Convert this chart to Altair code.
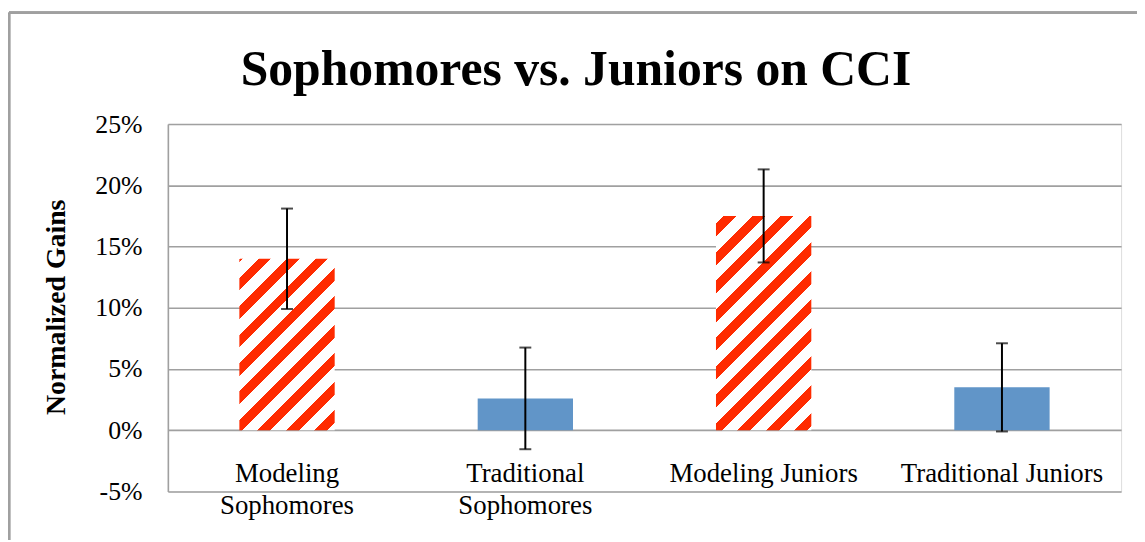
import altair as alt
import pandas as pd

# ---- data ----
categories = ["Modeling Sophomores", "Traditional Sophomores", "Modeling Juniors", "Traditional Juniors"]
gains = [0.140, 0.026, 0.175, 0.035]
errors = [0.041, 0.0415, 0.038, 0.036]
kinds = ["Modeling", "Traditional", "Modeling", "Traditional"]
y_ticks = [-0.05, 0.0, 0.05, 0.10, 0.15, 0.20, 0.25]

df = pd.DataFrame({"cat": categories, "gain": gains, "err": errors, "kind": kinds})

# ---- layout / style ----
W, H = 960, 370
PAD = {"left": 161, "top": 115, "right": 16, "bottom": 49}
FONT = "Liberation Serif"
GRID = "#A0A0A0"
RED = "#FF2B00"
WHITE = "#FFFFFF"
BLUE = "#6195C8"
BAR_W = 96.0
PX_PER_UNIT = H / 0.30
PERIOD, RED_W = 28.7, 13.0


def stripe_fill(value, phase):
    h = value * PX_PER_UNIT
    r = h / BAR_W
    L = BAR_W * (1 + r * r)
    stops = []
    k = -2
    while True:
        a = phase + k * PERIOD
        b = a + RED_W
        if a > L:
            break
        a0, b0 = max(a, 0.0), min(b, L)
        if b0 > a0:
            for s, c in ((a0, WHITE), (a0, RED), (b0, RED), (b0, WHITE)):
                stops.append(alt.GradientStop(offset=round(s / L, 5), color=c))
        k += 1
    return alt.LinearGradient(gradient="linear", x1=0, y1=0, x2=1, y2=r, stops=stops)


x_enc = alt.X(
    "cat:N",
    sort=categories,
    scale=alt.Scale(domain=categories, paddingInner=0.6, paddingOuter=0.3),
    axis=alt.Axis(
        title=None, orient="bottom", offset=-62, domain=False, ticks=False, grid=False,
        labelAngle=0, labelFont=FONT, labelFontSize=27, labelColor="black",
        labelPadding=31, labelLineHeight=32, labelLimit=0, labelOverlap=False,
        labelBound=False,
        labelExpr="test(/Sophomores/, datum.label) ? split(datum.label, ' ') : datum.label",
    ),
)
y_scale = alt.Scale(domain=[-0.05, 0.25], nice=False, zero=False)
y_axis = alt.Axis(
    values=y_ticks, title="Normalized Gains", grid=True, gridColor=GRID, gridWidth=1.6,
    domain=True, domainColor=GRID, domainWidth=1.6, ticks=False,
    labelFont=FONT, labelFontSize=26, labelColor="black", labelPadding=26,
    labelExpr="round(datum.value * 100) + '%'",
    titleFont=FONT, titleFontSize=28, titleFontWeight="bold", titleColor="black",
    titleX=-112, titleY=184, titleAngle=-90, titleAlign="center", titleBaseline="middle",
)

base = alt.Chart(df)

trad = base.transform_filter(alt.datum.kind == "Traditional").mark_bar(color=BLUE).encode(
    x=x_enc, y=alt.Y("gain:Q", scale=y_scale, axis=y_axis), y2=alt.datum(0)
)
mod_soph = base.transform_filter(alt.datum.cat == categories[0]).mark_bar(
    color=stripe_fill(gains[0], 19.0)
).encode(x=x_enc, y=alt.Y("gain:Q", scale=y_scale), y2=alt.datum(0))
mod_jun = base.transform_filter(alt.datum.cat == categories[2]).mark_bar(
    color=stripe_fill(gains[2], 8.0)
).encode(x=x_enc, y=alt.Y("gain:Q", scale=y_scale), y2=alt.datum(0))

err_base = base.transform_calculate(lo="datum.gain - datum.err", hi="datum.gain + datum.err")
err_rule = err_base.mark_rule(color="black", strokeWidth=2).encode(
    x=x_enc, y=alt.Y("lo:Q", scale=y_scale), y2="hi:Q"
)
cap_lo = err_base.mark_tick(color="black", size=12, thickness=2, orient="horizontal").encode(
    x=x_enc, y=alt.Y("lo:Q", scale=y_scale)
)
cap_hi = err_base.mark_tick(color="black", size=12, thickness=2, orient="horizontal").encode(
    x=x_enc, y=alt.Y("hi:Q", scale=y_scale)
)

# outer chart-area frame (left and top edges)
frame_left = base.mark_rule(color=GRID, strokeWidth=2.5).encode(
    x=alt.value(-160), y=alt.value(-112), y2=alt.value(H + PAD["bottom"])
)
frame_top = base.mark_rule(color=GRID, strokeWidth=2.5).encode(
    x=alt.value(-160), x2=alt.value(W + PAD["right"]), y=alt.value(-112)
)

chart = alt.layer(
    trad, mod_soph, mod_jun, err_rule, cap_lo, cap_hi, frame_left, frame_top
).properties(
    width=W, height=H,
    title=alt.TitleParams(
        "Sophomores vs. Juniors on CCI", font=FONT, fontSize=50, fontWeight="bold",
        color="black", anchor="middle", dx=-69, offset=-84,
    ),
    autosize=alt.AutoSizeParams(type="none"),
    padding=PAD,
).configure_view(stroke=None).configure(background="white")

chart.save("out.html", embed_options={"renderer": "svg", "actions": False})
